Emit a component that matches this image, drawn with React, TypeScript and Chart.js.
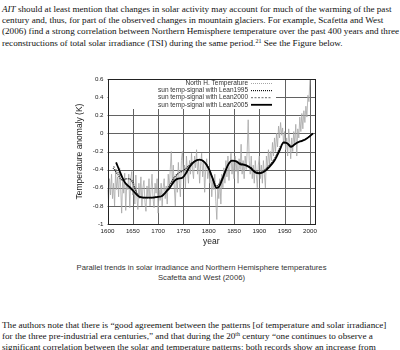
import React, { useEffect, useRef } from "react";
import { Chart, registerables } from "chart.js";

Chart.register(...registerables);

// ---- data ----
const xTickValues = [1600, 1650, 1700, 1750, 1800, 1850, 1900, 1950, 2000];
const yTickValues = [-1, -0.8, -0.6, -0.4, -0.2, 0, 0.2, 0.4, 0.6];

const seriesLabels = [
  "North H. Temperature",
  "sun temp-signal with Lean1995",
  "sun temp-signal with Lean2000",
  "sun temp-signal with Lean2005",
];

const northHTemp: [number, number][] = [
  [1600, -0.62], [1602, -0.75], [1604, -0.5], [1606, -0.68], [1608, -0.45], [1610, -0.72],
  [1612, -0.55], [1614, -0.8], [1616, -0.42], [1618, -0.62], [1620, -0.48], [1622, -0.7],
  [1624, -0.38], [1626, -0.6], [1628, -0.88], [1630, -0.5], [1632, -0.66], [1634, -0.44],
  [1636, -0.85], [1638, -0.55], [1640, -0.62], [1642, -0.45], [1644, -0.82], [1646, -0.5],
  [1648, -0.42], [1650, -0.68], [1652, -0.55], [1654, -0.78], [1656, -0.46], [1658, -0.7],
  [1660, -0.84], [1662, -0.55], [1664, -0.72], [1666, -0.48], [1668, -0.8], [1670, -0.6],
  [1672, -0.52], [1674, -0.76], [1676, -0.86], [1678, -0.58], [1680, -0.7], [1682, -0.5],
  [1684, -0.8], [1686, -0.62], [1688, -0.45], [1690, -0.72], [1692, -0.82], [1694, -0.55],
  [1696, -0.66], [1698, -0.5], [1700, -0.88], [1702, -0.62], [1704, -0.74], [1706, -0.55],
  [1708, -0.8], [1710, -0.6], [1712, -0.5], [1714, -0.72], [1716, -0.58], [1718, -0.78],
  [1720, -0.45], [1722, -0.62], [1724, -0.4], [1726, -0.2], [1728, -0.55], [1730, -0.35],
  [1732, -0.6], [1734, -0.8], [1736, -0.45], [1738, -0.65], [1740, -0.32], [1742, -0.55],
  [1744, -0.7], [1746, -0.3], [1748, -0.2], [1750, -0.48], [1752, -0.35], [1754, -0.6],
  [1756, -0.25], [1758, -0.42], [1760, -0.55], [1762, -0.3], [1764, -0.45], [1766, -0.22],
  [1768, -0.4], [1770, -0.5], [1772, -0.25], [1774, -0.38], [1776, -0.18], [1778, -0.45],
  [1780, -0.3], [1782, -0.55], [1784, -0.35], [1786, -0.22], [1788, -0.48], [1790, -0.3],
  [1792, -0.65], [1794, -0.4], [1796, -0.28], [1798, -0.5], [1800, -0.38], [1802, -0.55],
  [1804, -0.42], [1806, -0.7], [1808, -0.5], [1810, -0.62], [1812, -0.45], [1814, -0.75],
  [1816, -0.95], [1818, -0.6], [1820, -0.72], [1822, -0.5], [1824, -0.78], [1826, -0.45],
  [1828, -0.6], [1830, -0.38], [1832, -0.55], [1834, -0.3], [1836, -0.48], [1838, -0.25],
  [1840, -0.52], [1842, -0.35], [1844, -0.22], [1846, -0.45], [1848, -0.3], [1850, -0.5],
  [1852, -0.25], [1854, -0.42], [1856, -0.3], [1858, -0.55], [1860, -0.28], [1862, -0.4],
  [1864, -0.12], [1866, -0.45], [1868, -0.3], [1870, -0.5], [1872, -0.25], [1874, -0.4],
  [1876, -0.2], [1878, 0.15], [1880, -0.3], [1882, -0.45], [1884, -0.25], [1886, -0.5],
  [1888, -0.35], [1890, -0.55], [1892, -0.3], [1894, -0.45], [1896, -0.6], [1898, -0.35],
  [1900, -0.25], [1902, -0.5], [1904, -0.35], [1906, -0.55], [1908, -0.3], [1910, -0.45],
  [1912, -0.6], [1914, -0.25], [1916, -0.4], [1918, -0.18], [1920, -0.35], [1922, -0.2],
  [1924, -0.3], [1926, -0.1], [1928, -0.25], [1930, -0.05], [1932, -0.2], [1934, 0.0],
  [1936, -0.15], [1938, 0.08], [1940, -0.05], [1942, 0.12], [1944, -0.02], [1946, 0.06],
  [1948, -0.12], [1950, 0.02], [1952, -0.18], [1954, -0.05], [1956, -0.25], [1958, 0.05],
  [1960, -0.1], [1962, -0.28], [1964, -0.05], [1966, -0.2], [1968, 0.02], [1970, -0.12],
  [1972, 0.1], [1974, -0.25], [1976, 0.05], [1978, -0.05], [1980, 0.18], [1982, 0.02],
  [1984, 0.22], [1986, 0.05], [1988, 0.25], [1990, 0.12], [1992, 0.3], [1994, 0.18],
  [1996, 0.42], [1998, 0.35], [2000, 0.6],
];

const lean1995: [number, number][] = [
  [1611, -0.38], [1620, -0.45], [1630, -0.52], [1640, -0.5], [1648, -0.52], [1655, -0.62],
  [1663, -0.7], [1680, -0.71], [1700, -0.7], [1710, -0.68], [1720, -0.6], [1730, -0.5],
  [1740, -0.44], [1750, -0.41], [1760, -0.36], [1770, -0.31], [1780, -0.29], [1790, -0.31],
  [1800, -0.38], [1808, -0.5], [1815, -0.58], [1822, -0.55], [1830, -0.45], [1840, -0.33],
  [1848, -0.3], [1858, -0.32], [1870, -0.34], [1882, -0.37], [1892, -0.42], [1902, -0.43],
  [1912, -0.4], [1922, -0.34], [1932, -0.26], [1942, -0.14], [1950, -0.1], [1958, -0.12],
  [1965, -0.14], [1975, -0.1], [1985, -0.08], [1995, -0.05], [2004, -0.01],
];

const lean2000: [number, number][] = [
  [1612, -0.36], [1622, -0.44], [1632, -0.5], [1642, -0.5], [1650, -0.55], [1658, -0.65],
  [1665, -0.7], [1690, -0.71], [1705, -0.7], [1715, -0.64], [1725, -0.56], [1735, -0.47],
  [1745, -0.42], [1755, -0.39], [1765, -0.33], [1775, -0.3], [1785, -0.29], [1795, -0.34],
  [1803, -0.43], [1810, -0.54], [1816, -0.58], [1824, -0.52], [1834, -0.4], [1844, -0.31],
  [1852, -0.3], [1862, -0.33], [1875, -0.35], [1888, -0.41], [1898, -0.44], [1908, -0.41],
  [1918, -0.36], [1928, -0.3], [1938, -0.2], [1947, -0.11], [1956, -0.11], [1964, -0.14],
  [1972, -0.11], [1982, -0.08], [1992, -0.06], [2004, 0.0],
];

const lean2005: [number, number][] = [
  [1617, -0.32], [1625, -0.43], [1634, -0.54], [1645, -0.6], [1655, -0.66], [1663, -0.7],
  [1680, -0.71], [1700, -0.7], [1708, -0.69], [1715, -0.65], [1723, -0.6], [1733, -0.52],
  [1740, -0.5], [1748, -0.49], [1755, -0.44], [1762, -0.37], [1772, -0.31], [1782, -0.29],
  [1792, -0.32], [1800, -0.39], [1808, -0.5], [1815, -0.6], [1820, -0.59], [1828, -0.49],
  [1838, -0.35], [1846, -0.3], [1855, -0.31], [1862, -0.34], [1872, -0.35], [1882, -0.38],
  [1892, -0.43], [1900, -0.44], [1910, -0.42], [1920, -0.37], [1930, -0.3], [1940, -0.19],
  [1948, -0.1], [1955, -0.11], [1963, -0.15], [1970, -0.12], [1980, -0.09], [1990, -0.07],
  [2000, -0.03], [2006, 0.0],
];

const SANS = '"Liberation Sans", Arial, sans-serif';

const toXY = (arr: [number, number][]) => arr.map(([x, y]) => ({ x, y }));

const keyPlugin = {
  id: "gnuKey",
  beforeDatasetsDraw(chart: any) {
    const { ctx, chartArea: a } = chart;
    const xs = chart.scales.x;
    const ys = chart.scales.y;
    ctx.save();
    // grid
    ctx.strokeStyle = "#626262";
    ctx.lineWidth = 1;
    xTickValues.forEach((v) => {
      const px = Math.round(xs.getPixelForValue(v)) + 0.5;
      ctx.beginPath();
      ctx.moveTo(px, a.top);
      ctx.lineTo(px, a.bottom);
      ctx.stroke();
    });
    yTickValues.forEach((v) => {
      const py = Math.round(ys.getPixelForValue(v)) + 0.5;
      ctx.beginPath();
      ctx.moveTo(a.left, py);
      ctx.lineTo(a.right, py);
      ctx.stroke();
    });
    // opaque key box
    ctx.fillStyle = "#fff";
    ctx.fillRect(a.left + 1, a.top + 1, a.right - 39 - (a.left + 1), 29);
    ctx.restore();
  },
  afterDatasetsDraw(chart: any) {
    const { ctx, chartArea: a } = chart;
    ctx.save();
    ctx.font = `6.5px ${SANS}`;
    ctx.textAlign = "right";
    ctx.textBaseline = "middle";
    ctx.fillStyle = "#333";
    chart.data.datasets.forEach((ds: any, i: number) => {
      const y = a.top + 4.5 + i * 7.1;
      ctx.fillText(ds.label, a.right - 67, y);
      ctx.beginPath();
      ctx.setLineDash(ds.keyDash || ds.borderDash || []);
      ctx.strokeStyle = ds.borderColor;
      ctx.lineWidth = Math.max(1, ds.borderWidth);
      ctx.moveTo(a.right - 64, y);
      ctx.lineTo(a.right - 43, y);
      ctx.stroke();
    });
    ctx.setLineDash([]);
    // border
    ctx.strokeStyle = "#222";
    ctx.lineWidth = 1;
    ctx.strokeRect(
      Math.round(a.left) + 0.5,
      Math.round(a.top) + 0.5,
      Math.round(a.right) - Math.round(a.left),
      Math.round(a.bottom) - Math.round(a.top)
    );
    ctx.restore();
  },
};

function GnuChart() {
  const ref = useRef<HTMLCanvasElement | null>(null);
  useEffect(() => {
    if (!ref.current) return;
    const chart = new Chart(ref.current, {
      type: "line",
      data: {
        datasets: [
          {
            label: seriesLabels[0],
            data: toXY(northHTemp),
            borderColor: "#a6a6a6",
            borderWidth: 0.8,
            keyDash: [1, 1],
            pointRadius: 0,
            tension: 0,
            order: 4,
          },
          {
            label: seriesLabels[1],
            data: toXY(lean1995),
            borderColor: "#111",
            borderWidth: 1.2,
            borderDash: [1, 1],
            pointRadius: 0,
            cubicInterpolationMode: "monotone",
            order: 3,
          },
          {
            label: seriesLabels[2],
            data: toXY(lean2000),
            borderColor: "#666",
            borderWidth: 1,
            borderDash: [2, 1.5],
            pointRadius: 0,
            cubicInterpolationMode: "monotone",
            order: 2,
          },
          {
            label: seriesLabels[3],
            data: toXY(lean2005),
            borderColor: "#000",
            borderWidth: 1.8,
            pointRadius: 0,
            cubicInterpolationMode: "monotone",
            order: 1,
          },
        ],
      } as any,
      options: {
        animation: false,
        responsive: false,
        maintainAspectRatio: false,
        layout: { padding: { left: 0, top: 9, right: 25, bottom: 0 } },
        plugins: { legend: { display: false }, tooltip: { enabled: false } },
        scales: {
          x: {
            type: "linear",
            min: 1600,
            max: 2010,
            afterFit: (s: any) => {
              s.height = 26;
            },
            afterBuildTicks: (s: any) => {
              s.ticks = xTickValues.map((v) => ({ value: v }));
            },
            ticks: {
              font: { size: 6.2, family: SANS },
              color: "#222",
              padding: 4,
              maxRotation: 0,
              autoSkip: false,
              callback: (v: any) => String(v),
            },
            grid: { display: false, drawTicks: false },
            border: { display: false },
            title: {
              display: true,
              text: "year",
              font: { size: 8.5, family: SANS },
              color: "#222",
              padding: { top: 0, bottom: 3 },
            },
          },
          y: {
            type: "linear",
            min: -1,
            max: 0.6,
            afterFit: (s: any) => {
              s.width = 47.5;
            },
            afterBuildTicks: (s: any) => {
              s.ticks = yTickValues.map((v) => ({ value: v }));
            },
            ticks: {
              font: { size: 6.2, family: SANS },
              color: "#222",
              padding: 4,
              autoSkip: false,
              callback: (v: any) => String(Number(Number(v).toFixed(1))),
            },
            grid: { display: false, drawTicks: false },
            border: { display: false },
            title: {
              display: true,
              text: "Temperature anomaly (K)",
              font: { size: 8.5, family: SANS },
              color: "#222",
              padding: { top: 15, bottom: 0 },
            },
          },
        },
      } as any,
      plugins: [keyPlugin],
    });
    return () => chart.destroy();
  }, []);
  return (
    <canvas
      ref={ref}
      width={280}
      height={180}
      style={{ position: "absolute", left: 60, top: 70, width: 280, height: 180 }}
    />
  );
}

const lineStyle = (top: number): React.CSSProperties => ({
  position: "absolute",
  left: 2,
  top,
  fontSize: 9.15,
  lineHeight: "11.3px",
  whiteSpace: "nowrap",
});

const supStyle: React.CSSProperties = {
  fontSize: 6,
  verticalAlign: "top",
  position: "relative",
  top: -2,
};

export default function App() {
  return (
    <div
      style={{
        position: "fixed",
        left: 0,
        top: 0,
        width: 400,
        height: 350,
        background: "#fff",
        overflow: "hidden",
        fontFamily: '"Liberation Serif", "Times New Roman", serif',
        color: "#111",
      }}
    >
      <div style={lineStyle(3.6)}>
        <i>AIT</i> should at least mention that changes in solar activity may account for much of the warming of the past
      </div>
      <div style={lineStyle(14.9)}>
        century and, thus, for part of the observed changes in mountain glaciers. For example, Scafetta and West
      </div>
      <div style={lineStyle(26.2)}>
        (2006) find a strong correlation between Northern Hemisphere temperature over the past 400 years and three
      </div>
      <div style={lineStyle(37.5)}>
        reconstructions of total solar irradiance (TSI) during the same period.
        <sup style={supStyle}>21</sup> See the Figure below.
      </div>

      <GnuChart />

      <div
        style={{
          position: "absolute",
          left: 0,
          width: 403,
          top: 263.3,
          textAlign: "center",
          fontFamily: SANS,
          fontSize: 7.7,
          lineHeight: "10px",
          color: "#333",
          whiteSpace: "nowrap",
        }}
      >
        <div>Parallel trends in solar irradiance and Northern Hemisphere temperatures</div>
        <div>Scafetta and West (2006)</div>
      </div>

      <div style={lineStyle(319.5)}>
        The authors note that there is “good agreement between the patterns [of temperature and solar irradiance]
      </div>
      <div style={lineStyle(330.8)}>
        for the three pre-industrial era centuries,” and that during the 20
        <sup style={supStyle}>th</sup> century “one continues to observe a
      </div>
      <div style={lineStyle(342.1)}>
        significant correlation between the solar and temperature patterns: both records show an increase from
      </div>
    </div>
  );
}
